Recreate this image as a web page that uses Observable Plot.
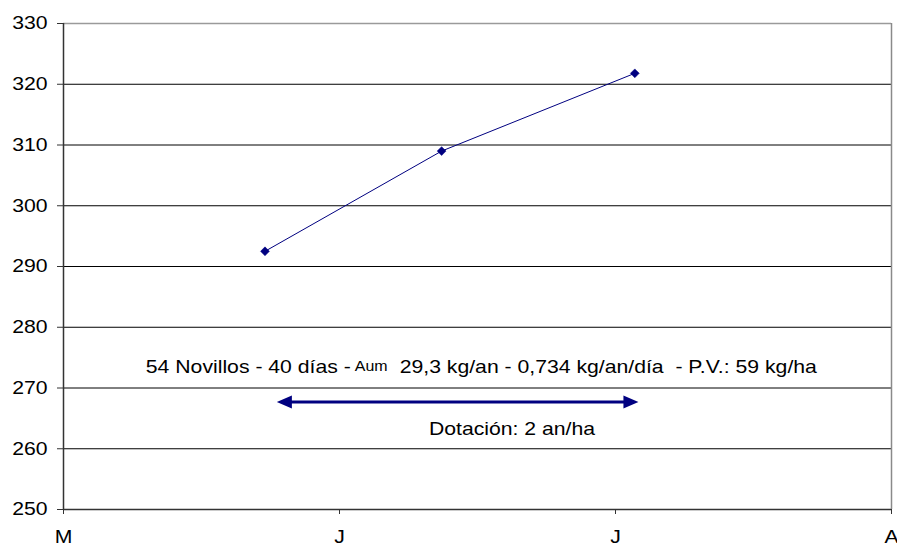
<!DOCTYPE html>
<html>
<head>
<meta charset="utf-8">
<script src="https://cdn.jsdelivr.net/npm/d3@7"></script>
<script src="https://cdn.jsdelivr.net/npm/@observablehq/plot@0.6"></script>
<style>
  html, body { margin: 0; padding: 0; background: #fff; }
  #chart svg { display: block; }
</style>
</head>
<body>
<div id="chart"></div>
<script>
// Month ticks (x in month units from 1 May)
const monthTicks = [0, 1, 2, 3];
const monthLabels = ["M", "J", "J", "A"];
const yTicks = [250, 260, 270, 280, 290, 300, 310, 320, 330];

// Series: live weight (kg)
const dates = [0.73, 1.37, 2.07];
const weights = [292.5, 309.0, 321.8];

// Annotations
const noteParts = ["54 Novillos - 40 días -", "Aum", "29,3 kg/an - 0,734 kg/an/día\u00a0 - P.V.: 59 kg/ha"];
const noteX = [1.041, 1.115, 1.218];
const noteY = 273.5;
const stockText = "Dotación: 2 an/ha";
const stockX = 1.625;
const stockY = 263.3;
const arrowStart = 0.773;
const arrowEnd = 2.083;
const arrowY = 267.7;

const series = dates.map((d, i) => ({x: d, y: weights[i]}));
const arrowHeads = [
  {x: arrowStart, y: arrowY, rot: 180},
  {x: arrowEnd, y: arrowY, rot: 0}
];
const headSymbol = {
  draw(context) {
    context.moveTo(0, 0);
    context.lineTo(-15, -6.5);
    context.lineTo(-15, 6.5);
    context.closePath();
  }
};
const navy = "#000080";
const font = "Liberation Sans, Arial, sans-serif";
const fs = 18.6;
const stretch = 1.14;

const chart = Plot.plot({
  width: 897,
  height: 548,
  marginLeft: 63,
  marginRight: 6,
  marginTop: 23,
  marginBottom: 39,
  style: {fontFamily: font, fontSize: fs + "px", color: "#000", background: "#fff"},
  x: {domain: [0, 3]},
  y: {domain: [250, 330]},
  marks: [
    Plot.gridY(yTicks.filter(t => t > 250 && t < 330), {stroke: "#000", strokeOpacity: 1, strokeWidth: 1}),
    Plot.ruleY([330], {stroke: "#9a9a9a", strokeWidth: 1.5}),
    Plot.ruleX([3], {stroke: "#8a8a8a", strokeWidth: 1.5}),
    Plot.ruleY([250], {stroke: "#333", strokeWidth: 1.5}),
    Plot.ruleX([0], {stroke: "#333", strokeWidth: 1.5}),
    Plot.axisY({ticks: yTicks, tickSize: 6, tickPadding: 10, label: null, fontSize: fs, stroke: "#333"}),
    Plot.axisX({ticks: monthTicks, tickFormat: (d, i) => monthLabels[i], tickSize: 5, tickPadding: 15, label: null, fontSize: fs, stroke: "#333"}),
    Plot.line(series, {x: "x", y: "y", stroke: navy, strokeWidth: 1}),
    Plot.dot(series, {x: "x", y: "y", symbol: "diamond2", r: 4, fill: navy, stroke: navy, strokeWidth: 0.5}),
    Plot.ruleY([arrowY], {x1: arrowStart, x2: arrowEnd, stroke: navy, strokeWidth: 3, insetLeft: 8, insetRight: 8}),
    Plot.dot(arrowHeads, {x: "x", y: "y", rotate: "rot", symbol: headSymbol, fill: navy, stroke: "none"}),
    Plot.text([noteParts[0]], {x: noteX[0], y: noteY, text: d => d, textAnchor: "end", fontSize: fs, fill: "#000"}),
    Plot.text([noteParts[1]], {x: noteX[1], y: noteY, text: d => d, textAnchor: "middle", fontSize: 14, fill: "#000"}),
    Plot.text([noteParts[2]], {x: noteX[2], y: noteY, text: d => d, textAnchor: "start", fontSize: fs, fill: "#000"}),
    Plot.text([stockText], {x: stockX, y: stockY, text: d => d, textAnchor: "middle", fontSize: fs, fill: "#000"})
  ]
});
document.getElementById("chart").appendChild(chart);
// The reference font is drawn slightly wider than it is tall.
chart.querySelectorAll("text").forEach(el => {
  const w = el.getComputedTextLength();
  if (w > 0) {
    el.setAttribute("textLength", (w * stretch).toFixed(2));
    el.setAttribute("lengthAdjust", "spacingAndGlyphs");
  }
});
</script>
</body>
</html>
